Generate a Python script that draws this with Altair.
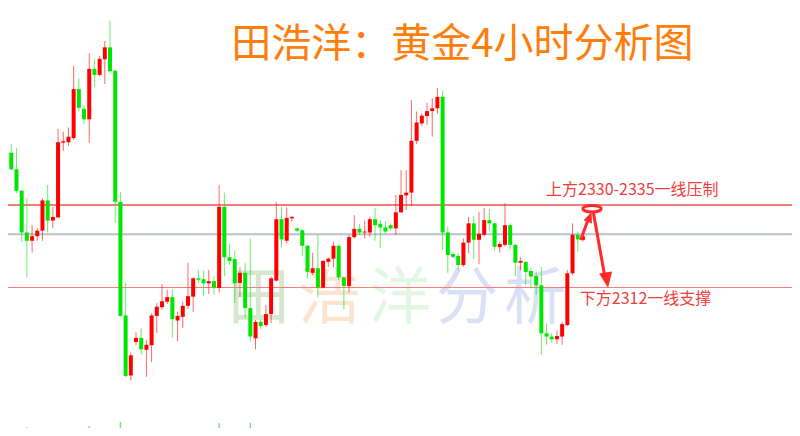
import altair as alt
import pandas as pd

# ---- candle data (4h gold), Chinese colouring: red = up, green = down ----
opens = [2339.2, 2341.4, 2337.8, 2333.1, 2324.0, 2322.2, 2323.2, 2324.4, 2331.0, 2326.6,
         2327.3, 2343.6, 2343.7, 2344.6, 2355.3, 2351.0, 2348.7, 2359.7, 2358.4, 2361.8,
         2364.4, 2359.3, 2330.7, 2305.9, 2292.8, 2300.1, 2301.0, 2298.4, 2299.4, 2305.8,
         2307.7, 2308.9, 2309.9, 2304.8, 2305.6, 2308.0, 2310.0, 2314.0, 2313.8, 2312.9,
         2313.4, 2311.9, 2329.6, 2318.6, 2318.2, 2313.0, 2315.2, 2307.5, 2300.9, 2304.5,
         2303.8, 2306.2, 2313.5, 2326.9, 2322.2, 2327.1, 2324.9, 2324.5, 2321.1, 2315.2,
         2316.2, 2312.0, 2317.6, 2318.3, 2321.1, 2314.2, 2312.3, 2323.0, 2324.8, 2324.0,
         2324.0, 2326.9, 2325.9, 2325.1, 2325.6, 2324.9, 2328.4, 2332.1, 2332.7, 2344.0,
         2347.8, 2349.4, 2350.5, 2351.1, 2353.6, 2324.0, 2319.3, 2318.9, 2316.9, 2321.8,
         2326.0, 2322.4, 2323.5, 2326.7, 2326.0, 2320.8, 2321.3, 2325.6, 2321.3, 2317.4,
         2317.6, 2315.6, 2314.5, 2312.5, 2302.0, 2301.3, 2300.7, 2301.3, 2303.8, 2315.1,
         2323.5, 2322.4]
highs = [2342.7, 2343.3, 2342.4, 2333.3, 2331.5, 2325.6, 2325.0, 2331.5, 2334.4, 2329.6,
         2346.6, 2346.0, 2346.9, 2360.4, 2357.6, 2351.8, 2363.1, 2361.9, 2362.5, 2365.8,
         2370.2, 2359.6, 2332.8, 2313.0, 2297.8, 2302.2, 2303.1, 2300.5, 2306.4, 2308.6,
         2312.8, 2311.5, 2311.5, 2306.7, 2308.9, 2317.4, 2314.2, 2315.8, 2315.7, 2315.8,
         2314.4, 2334.4, 2332.7, 2321.6, 2320.0, 2316.4, 2317.3, 2322.7, 2304.9, 2305.1,
         2308.2, 2314.4, 2330.6, 2329.6, 2329.5, 2327.6, 2325.1, 2324.7, 2321.3, 2319.6,
         2323.5, 2318.0, 2318.6, 2322.0, 2321.3, 2314.4, 2323.5, 2327.8, 2325.9, 2326.6,
         2327.4, 2329.3, 2326.7, 2326.4, 2326.0, 2332.2, 2337.6, 2337.6, 2352.9, 2350.4,
         2350.0, 2352.3, 2353.3, 2355.5, 2354.9, 2325.3, 2319.8, 2319.5, 2322.7, 2327.4,
         2327.6, 2328.5, 2329.3, 2329.1, 2326.1, 2322.0, 2330.4, 2326.0, 2321.5, 2318.6,
         2317.8, 2316.4, 2315.4, 2316.4, 2304.2, 2302.0, 2302.6, 2304.5, 2315.8, 2326.0,
         2324.2, 2324.2]
lows = [2338.5, 2337.6, 2332.6, 2321.9, 2314.3, 2319.6, 2322.2, 2322.2, 2324.0, 2324.9,
        2327.2, 2341.8, 2342.9, 2344.2, 2350.4, 2347.7, 2343.6, 2355.8, 2358.1, 2356.4,
        2358.9, 2326.1, 2305.6, 2292.4, 2291.7, 2299.4, 2297.3, 2292.5, 2295.7, 2302.1,
        2307.2, 2308.4, 2301.1, 2300.3, 2303.2, 2307.4, 2306.7, 2312.9, 2310.3, 2310.6,
        2310.4, 2310.9, 2314.4, 2316.9, 2308.6, 2309.9, 2305.3, 2300.2, 2298.5, 2302.9,
        2303.4, 2304.2, 2313.3, 2320.7, 2321.6, 2326.4, 2324.1, 2318.9, 2314.0, 2314.7,
        2309.9, 2311.8, 2316.5, 2316.4, 2313.6, 2307.2, 2310.9, 2322.7, 2323.5, 2322.7,
        2323.1, 2322.2, 2320.6, 2323.8, 2324.5, 2323.5, 2328.3, 2328.9, 2329.8, 2343.3,
        2347.2, 2347.5, 2344.9, 2349.9, 2320.2, 2315.2, 2318.4, 2315.7, 2316.5, 2319.5,
        2318.2, 2317.1, 2323.1, 2324.5, 2320.0, 2319.6, 2320.9, 2320.3, 2314.4, 2315.8,
        2312.5, 2311.8, 2310.4, 2297.3, 2299.5, 2299.9, 2299.7, 2299.5, 2303.6, 2314.7,
        2319.8, 2322.0]
closes = [2341.4, 2337.8, 2333.1, 2324.0, 2322.2, 2323.2, 2324.4, 2331.0, 2326.6, 2327.4,
          2343.7, 2343.9, 2344.9, 2355.3, 2351.2, 2348.7, 2359.7, 2358.4, 2361.9, 2364.4,
          2359.2, 2330.7, 2305.8, 2292.7, 2297.2, 2301.0, 2298.5, 2299.5, 2305.9, 2307.8,
          2309.0, 2309.9, 2305.1, 2305.8, 2308.0, 2310.1, 2314.0, 2313.7, 2312.9, 2313.4,
          2312.0, 2329.6, 2318.6, 2317.8, 2312.9, 2315.2, 2307.5, 2301.3, 2304.5, 2303.6,
          2306.2, 2314.0, 2326.9, 2322.5, 2327.2, 2327.4, 2324.4, 2321.1, 2315.4, 2316.2,
          2312.0, 2317.8, 2318.3, 2321.1, 2314.2, 2312.3, 2323.0, 2324.8, 2324.0, 2324.2,
          2326.9, 2325.6, 2325.1, 2324.2, 2324.9, 2328.4, 2332.2, 2332.7, 2344.0, 2348.0,
          2349.5, 2350.5, 2351.1, 2353.6, 2324.0, 2319.1, 2318.7, 2316.9, 2321.8, 2326.0,
          2322.4, 2323.7, 2326.7, 2326.0, 2320.9, 2321.5, 2325.6, 2321.3, 2317.4, 2317.8,
          2315.4, 2314.4, 2312.5, 2302.0, 2301.3, 2300.7, 2301.4, 2304.0, 2315.1, 2323.5,
          2322.5, 2323.2]

# faint volume bars peeking at the bottom
vol_idx = [4, 10, 16, 22, 35, 41, 47, 53, 66, 78, 84, 109]
vol_val = [9, 8, 10, 14, 1.3, 12.7, 13.3, 4.7, 2.7, 4, 8, 1.3]

# levels
resist_level = 2330.0
support_level = 2312.0
last_price = 2323.6

title_text = "田浩洋：黄金4小时分析图"
wm_chars = ["田", "浩", "洋", "分", "析"]
wm_idx = [48.6, 62.1, 75.8, 88.7, 101.8]
wm_colors = ["#d6e7cf", "#fde4d0", "#e2f7e2", "#dae1f6", "#dae1f6"]

up_note = "上方2330-2335一线压制"
down_note = "下方2312一线支撑"

df = pd.DataFrame({"i": list(range(len(opens))), "o": opens, "h": highs, "l": lows, "c": closes})
df["dir"] = ["up" if c >= o else "down" for o, c in zip(opens, closes)]

XS = alt.Scale(domain=[1.33, 150.27], nice=False, zero=False)
YS = alt.Scale(domain=[2281.34, 2372.99], nice=False, zero=False)
col = alt.Scale(domain=["up", "down"], range=["#ff0000", "#00e600"])

base = alt.Chart(df)

wicks = base.mark_rule(strokeWidth=1, opacity=0.6).encode(
    x=alt.X("i:Q", scale=XS, axis=None),
    y=alt.Y("l:Q", scale=YS, axis=None),
    y2="h:Q",
    color=alt.Color("dir:N", scale=col, legend=None),
)
bodies = base.mark_bar(size=4).encode(
    x=alt.X("i:Q", scale=XS, axis=None),
    y=alt.Y("o:Q", scale=YS, axis=None),
    y2="c:Q",
    color=alt.Color("dir:N", scale=col, legend=None),
)

vol = alt.Chart(pd.DataFrame({"i": vol_idx, "v": vol_val})).mark_rule(
    strokeWidth=1.5, color="#7fe07f"
).encode(
    x=alt.X("i:Q", scale=XS, axis=None),
    y=alt.Y("v:Q", scale=alt.Scale(domain=[8, 428], nice=False, zero=False), axis=None),
    y2=alt.Y2(datum=0),
)

lines_df = pd.DataFrame({
    "p": [last_price, resist_level, support_level],
    "k": ["last", "res", "sup"],
})
hl = alt.Chart(lines_df).mark_rule().encode(
    y=alt.Y("p:Q", scale=YS, axis=None),
    color=alt.Color("k:N", scale=alt.Scale(domain=["last", "res", "sup"],
                                           range=["#b9c1cc", "#ee5050", "#ff7a7a"]), legend=None),
    strokeWidth=alt.StrokeWidth("k:N", scale=alt.Scale(domain=["last", "res", "sup"],
                                                      range=[2, 1.2, 2]), legend=None),
)

wm = alt.Chart(pd.DataFrame({"t": wm_chars, "i": wm_idx, "p": [2309.3] * 5, "c": wm_colors})).mark_text(
    fontSize=62, font="Noto Sans CJK SC", align="center", baseline="middle"
).encode(
    x=alt.X("i:Q", scale=XS, axis=None),
    y=alt.Y("p:Q", scale=YS, axis=None),
    text="t:N",
    color=alt.Color("c:N", scale=None),
)

title = alt.Chart(pd.DataFrame({"t": [title_text], "i": [87.8], "p": [2364.9]})).mark_text(
    fontSize=40, font="Noto Sans CJK SC", color="#ff7d0a", align="center", baseline="middle"
).encode(
    x=alt.X("i:Q", scale=XS, axis=None),
    y=alt.Y("p:Q", scale=YS, axis=None),
    text="t:N",
)

notes = alt.Chart(pd.DataFrame({"t": [up_note, down_note], "i": [103.9, 110.4], "p": [2333.3, 2309.5]})).mark_text(
    fontSize=16, font="Noto Sans CJK SC", color="#f03c3c", align="left", baseline="middle"
).encode(
    x=alt.X("i:Q", scale=XS, axis=None),
    y=alt.Y("p:Q", scale=YS, axis=None),
    text="t:N",
)

ellipse = alt.Chart(pd.DataFrame({"i": [112.75], "p": [2329.2]})).mark_point(
    shape="M -1 0 A 1 0.36 0 1 1 1 0 A 1 0.36 0 1 1 -1 0 Z",
    size=330, filled=False, strokeWidth=3, color="#ff2a2a", opacity=1
).encode(
    x=alt.X("i:Q", scale=XS, axis=None),
    y=alt.Y("p:Q", scale=YS, axis=None),
)

shafts = alt.Chart(pd.DataFrame({
    "i": [110.56, 111.9, 113.03, 115.12],
    "p": [2322.36, 2326.5, 2328.25, 2314.94],
    "g": ["a", "a", "b", "b"],
})).mark_line(strokeWidth=3, color="#ff2a2a").encode(
    x=alt.X("i:Q", scale=XS, axis=None),
    y=alt.Y("p:Q", scale=YS, axis=None),
    detail="g:N",
)

heads = alt.Chart(pd.DataFrame({
    "i": [112.3, 115.6],
    "p": [2327.4, 2313.6],
    "a": [21, 171],
    "s": [110, 240],
})).mark_point(
    shape="M 0 -1 L 0.85 1 L -0.85 1 Z", filled=True, color="#ff2a2a", opacity=1
).encode(
    x=alt.X("i:Q", scale=XS, axis=None),
    y=alt.Y("p:Q", scale=YS, axis=None),
    angle=alt.Angle("a:Q", scale=None),
    size=alt.Size("s:Q", scale=None, legend=None),
)

chart = alt.layer(
    wm, hl, vol, wicks, bodies, title, notes, shafts, heads, ellipse
).resolve_scale(y="independent", color="independent", strokeWidth="independent").properties(
    width=784, height=420,
    autosize=alt.AutoSizeParams(type="none"),
    padding=0,
    background="white",
).configure_view(stroke=None)

chart.save("out.html", embed_options={"renderer": "svg", "actions": False})
